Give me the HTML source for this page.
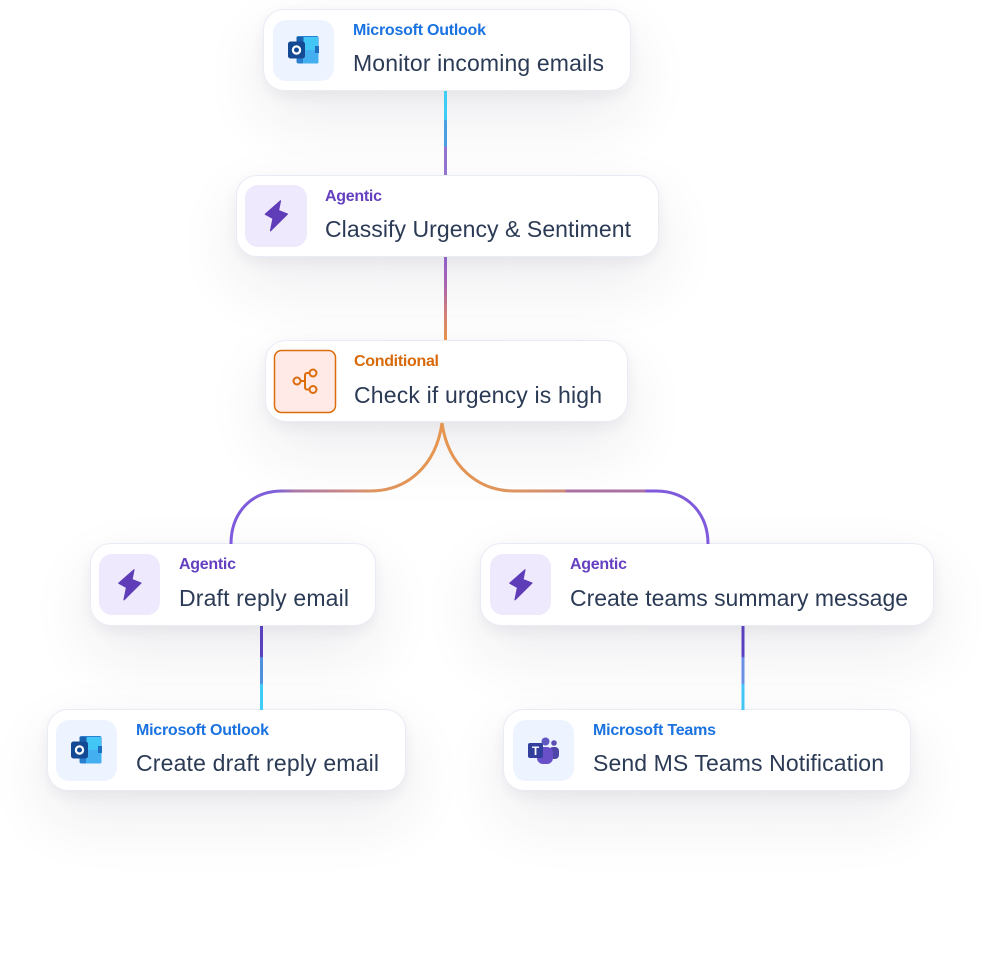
<!DOCTYPE html>
<html><head><meta charset="utf-8"><style>
html,body{margin:0;padding:0;background:#fff;width:981px;height:955px;overflow:hidden}
.c{position:absolute;box-sizing:border-box;background:#fff;border:1.5px solid #e8ecf5;border-radius:21px;box-shadow:0 5px 14px rgba(40,40,70,.06),0 26px 64px rgba(40,40,70,.085)}
svg{position:absolute;left:0;top:0}
.t{font:400 23px "Liberation Sans",sans-serif;fill:#2b3a55}
.l{font:700 16px "Liberation Sans",sans-serif}
.b{fill:#1a73e0}.p{fill:#6440c0}.o{fill:#d96a0b}
</style></head><body>
<div class="c" style="left:263px;top:9px;width:368px;height:82px"></div>
<div class="c" style="left:236px;top:175px;width:423px;height:82px"></div>
<div class="c" style="left:265px;top:340px;width:363px;height:82px"></div>
<div class="c" style="left:90px;top:543px;width:286px;height:83px"></div>
<div class="c" style="left:480px;top:543px;width:454px;height:83px"></div>
<div class="c" style="left:47px;top:709px;width:359px;height:82px"></div>
<div class="c" style="left:503px;top:709px;width:408px;height:82px"></div>
<svg width="981" height="955" viewBox="0 0 981 955">
<defs>
<linearGradient id="g1" x1="0" y1="91" x2="0" y2="174" gradientUnits="userSpaceOnUse"><stop offset="0" stop-color="#3fcdf6"/><stop offset=".34" stop-color="#3fcdf6"/><stop offset=".36" stop-color="#4a9fe0"/><stop offset=".66" stop-color="#4a9fe0"/><stop offset=".68" stop-color="#9273cf"/><stop offset="1" stop-color="#9273cf"/></linearGradient>
<linearGradient id="g2" x1="0" y1="257" x2="0" y2="340" gradientUnits="userSpaceOnUse"><stop offset="0" stop-color="#8f5fca"/><stop offset=".33" stop-color="#a864b0"/><stop offset=".66" stop-color="#cf7f78"/><stop offset="1" stop-color="#e8934d"/></linearGradient>
<linearGradient id="g3" x1="0" y1="626" x2="0" y2="710" gradientUnits="userSpaceOnUse"><stop offset="0" stop-color="#5a3fbe"/><stop offset=".36" stop-color="#5a3fbe"/><stop offset=".38" stop-color="#4f8fdc"/><stop offset=".68" stop-color="#4f8fdc"/><stop offset=".7" stop-color="#3fcdf6"/><stop offset="1" stop-color="#3fcdf6"/></linearGradient>
<linearGradient id="g4" x1="0" y1="626" x2="0" y2="710" gradientUnits="userSpaceOnUse"><stop offset="0" stop-color="#5a3fbe"/><stop offset=".36" stop-color="#5a3fbe"/><stop offset=".38" stop-color="#6a8fe4"/><stop offset=".68" stop-color="#6a8fe4"/><stop offset=".7" stop-color="#45c5f5"/><stop offset="1" stop-color="#45c5f5"/></linearGradient>
<linearGradient id="g5" x1="442" y1="0" x2="231" y2="0" gradientUnits="userSpaceOnUse"><stop offset="0" stop-color="#e6954f"/><stop offset=".33" stop-color="#dd9560"/><stop offset=".42" stop-color="#cf8a80"/><stop offset=".7" stop-color="#a878a8"/><stop offset=".78" stop-color="#7f60d8"/><stop offset="1" stop-color="#7f5adc"/></linearGradient>
<linearGradient id="g6" x1="442" y1="0" x2="708" y2="0" gradientUnits="userSpaceOnUse"><stop offset="0" stop-color="#e6954f"/><stop offset=".27" stop-color="#dd9560"/><stop offset=".46" stop-color="#cf8a78"/><stop offset=".47" stop-color="#aa70a4"/><stop offset=".76" stop-color="#aa70a4"/><stop offset=".77" stop-color="#7f5adc"/><stop offset="1" stop-color="#7f5adc"/></linearGradient>
<symbol id="out" viewBox="0 0 32 28" overflow="visible">
<rect x="8.500" y="0" width="22" height="27.500" rx="2" fill="#2a7fd0"/>
<rect x="15" y="1" width="15" height="13" fill="#41c6f5"/>
<rect x="8.500" y="1" width="7" height="6" fill="#1a5fae"/>
<path d="M15 14h15.500v11.500a2 2 0 0 1-2 2H15z" fill="#43aff0"/>
<rect x="27" y="10" width="4" height="7" fill="#1f6fc0"/>
<rect x="0" y="5.500" width="17" height="17" rx="2.500" fill="#144a94"/>
<circle cx="8.500" cy="14" r="3.600" fill="none" stroke="#fff" stroke-width="2.200"/>
</symbol>
<symbol id="bolt" viewBox="0 0 24 32"><path d="M16 .8 L.8 14.200 L8.500 18.500 L6 30.800 L23 14 L14 10.500 Z" fill="#5f3cb8" stroke="#5f3cb8" stroke-width="1.200" stroke-linejoin="round"/></symbol>
</defs>

<rect x="444" y="91" width="3" height="84" fill="url(#g1)"/>
<rect x="444" y="257" width="3" height="83" fill="url(#g2)"/>
<rect x="260" y="626" width="3" height="84" fill="url(#g3)"/>
<rect x="741.500" y="626" width="3" height="84" fill="url(#g4)"/>
<path d="M442 423C436 466 407 491 370 491H282C250 491 231 514 231 544" fill="none" stroke="url(#g5)" stroke-width="3"/>
<path d="M442 423C448 466 478 491 514 491H656C688 491 708 514 708 544" fill="none" stroke="url(#g6)" stroke-width="3"/>

<rect x="273" y="20" width="61" height="61" rx="13" fill="#edf4ff"/>
<use href="#out" x="288" y="36" width="32" height="28"/>
<text class="l b" x="353" y="35" textLength="133" lengthAdjust="spacing">Microsoft Outlook</text>
<text class="t" x="353" y="71" textLength="251" lengthAdjust="spacing">Monitor incoming emails</text>

<rect x="245" y="185" width="62" height="62" rx="13" fill="#eee9fd"/>
<use href="#bolt" x="264.500" y="200" width="24" height="32"/>
<text class="l p" x="325" y="201" textLength="57" lengthAdjust="spacing">Agentic</text>
<text class="t" x="325" y="237" textLength="306" lengthAdjust="spacing">Classify Urgency &amp; Sentiment</text>

<rect x="274.500" y="350.500" width="61" height="62" rx="7" fill="#ffeae7" stroke="#dc6c0c" stroke-width="1.500"/>
<g fill="none" stroke="#dc6c0c" stroke-width="2">
<circle cx="297" cy="381" r="3.500"/><circle cx="313" cy="373" r="3.500"/><circle cx="313" cy="389.500" r="3.500"/>
<path d="M300.500 381H305M309.500 373H307A2 2 0 0 0 305 375V387.500A2 2 0 0 0 307 389.500H309.500"/>
</g>
<text class="l o" x="354" y="366" textLength="85" lengthAdjust="spacing">Conditional</text>
<text class="t" x="354" y="403" textLength="248" lengthAdjust="spacing">Check if urgency is high</text>

<rect x="99" y="554" width="61" height="61" rx="13" fill="#eee9fd"/>
<use href="#bolt" x="118" y="569" width="24" height="32"/>
<text class="l p" x="179" y="569" textLength="57" lengthAdjust="spacing">Agentic</text>
<text class="t" x="179" y="606" textLength="170" lengthAdjust="spacing">Draft reply email</text>

<rect x="490" y="554" width="61" height="61" rx="13" fill="#eee9fd"/>
<use href="#bolt" x="509" y="569" width="24" height="32"/>
<text class="l p" x="570" y="569" textLength="57" lengthAdjust="spacing">Agentic</text>
<text class="t" x="570" y="606" textLength="338" lengthAdjust="spacing">Create teams summary message</text>

<rect x="56" y="720" width="61" height="61" rx="13" fill="#edf4ff"/>
<use href="#out" x="71" y="736" width="32" height="28"/>
<text class="l b" x="136" y="735" textLength="133" lengthAdjust="spacing">Microsoft Outlook</text>
<text class="t" x="136" y="771" textLength="243" lengthAdjust="spacing">Create draft reply email</text>

<rect x="513" y="720" width="61" height="61" rx="13" fill="#edf4ff"/>
<circle cx="554" cy="743" r="2.800" fill="#5d4fb4"/>
<rect x="549" y="747" width="10" height="12" rx="4" fill="#4f45a8"/>
<circle cx="545.500" cy="741.500" r="4" fill="#5f58c0"/>
<rect x="537" y="747" width="16" height="17" rx="6" fill="#6a50c8"/>
<rect x="528" y="743" width="15" height="15" rx="2" fill="#323f9c"/>
<text x="535.500" y="755" text-anchor="middle" style="font:700 12px 'Liberation Sans',sans-serif" fill="#fff">T</text>
<text class="l b" x="593" y="735" textLength="123" lengthAdjust="spacing">Microsoft Teams</text>
<text class="t" x="593" y="771" textLength="291" lengthAdjust="spacing">Send MS Teams Notification</text>
</svg>
</body></html>
